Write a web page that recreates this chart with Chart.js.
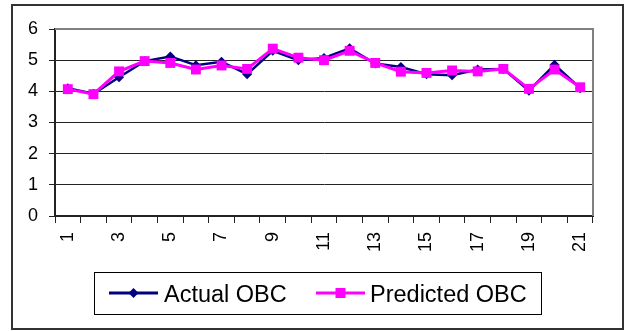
<!DOCTYPE html>
<html>
<head>
<meta charset="utf-8">
<script src="https://cdn.jsdelivr.net/npm/chart.js@4/dist/chart.umd.min.js"></script>
<style>
  html, body { margin: 0; padding: 0; background: #ffffff; }
  #wrap { position: relative; width: 631px; height: 331px; }
</style>
</head>
<body>
<div id="wrap"><canvas id="c" width="631" height="331"></canvas></div>
<script>
const categories = ["1","2","3","4","5","6","7","8","9","10","11","12","13","14","15","16","17","18","19","20","21"];
const actualOBC = [4.10, 3.92, 4.45, 4.97, 5.12, 4.84, 4.95, 4.55, 5.30, 5.00, 5.07, 5.38, 4.89, 4.78, 4.55, 4.52, 4.70, 4.72, 4.02, 4.85, 4.10];
const predictedOBC = [4.07, 3.91, 4.64, 4.97, 4.91, 4.70, 4.83, 4.72, 5.37, 5.08, 5.00, 5.30, 4.91, 4.63, 4.59, 4.67, 4.64, 4.72, 4.08, 4.70, 4.13];
const seriesNames = ["Actual OBC", "Predicted OBC"];
const yTicks = [0, 1, 2, 3, 4, 5, 6];

const FONT = "'Liberation Sans', Arial, sans-serif";

const framePlugin = {
  id: 'frame',
  afterDraw(chart) {
    const ctx = chart.ctx;
    const a = chart.chartArea;
    ctx.save();
    // plot area top/right border (gray)
    ctx.strokeStyle = '#808080';
    ctx.lineWidth = 2;
    ctx.beginPath();
    ctx.moveTo(a.left, a.top);
    ctx.lineTo(a.right, a.top);
    ctx.lineTo(a.right, a.bottom);
    ctx.stroke();
    // outer border
    ctx.strokeStyle = '#333333';
    ctx.lineWidth = 2;
    ctx.strokeRect(12, 5, 611, 324);
    // legend box
    ctx.strokeStyle = '#000000';
    ctx.lineWidth = 1;
    ctx.strokeRect(94.5, 272.5, 447, 42);
    const ly = 293;
    const items = [
      { x0: 109, x1: 158, tx: 164, ds: chart.data.datasets[0] },
      { x0: 316, x1: 365, tx: 370, ds: chart.data.datasets[1] }
    ];
    items.forEach(it => {
      const ds = it.ds;
      ctx.strokeStyle = ds.borderColor;
      ctx.lineWidth = 3;
      ctx.beginPath();
      ctx.moveTo(it.x0, ly);
      ctx.lineTo(it.x1, ly);
      ctx.stroke();
      const cx = (it.x0 + it.x1) / 2;
      ctx.fillStyle = ds.pointBackgroundColor;
      if (ds.pointStyle === 'rectRot') {
        const r = 5;
        ctx.beginPath();
        ctx.moveTo(cx - r, ly);
        ctx.lineTo(cx, ly - r);
        ctx.lineTo(cx + r, ly);
        ctx.lineTo(cx, ly + r);
        ctx.closePath();
        ctx.fill();
      } else {
        ctx.fillRect(cx - 5, ly - 5, 10, 10);
      }
      ctx.fillStyle = '#000000';
      ctx.font = '23.5px ' + FONT;
      ctx.textBaseline = 'alphabetic';
      ctx.textAlign = 'left';
      ctx.fillText(ds.label, it.tx, 302);
    });
    ctx.restore();
  }
};

new Chart(document.getElementById('c'), {
  type: 'line',
  data: {
    labels: categories,
    datasets: [
      {
        label: seriesNames[0],
        data: actualOBC,
        borderColor: '#000080',
        backgroundColor: '#000080',
        pointBackgroundColor: '#000080',
        pointBorderColor: '#000080',
        pointStyle: 'rectRot',
        pointRadius: 5,
        pointBorderWidth: 0,
        borderWidth: 2.5,
        tension: 0,
        order: 1
      },
      {
        label: seriesNames[1],
        data: predictedOBC,
        borderColor: '#FF00FF',
        backgroundColor: '#FF00FF',
        pointBackgroundColor: '#FF00FF',
        pointBorderColor: '#FF00FF',
        pointStyle: 'rect',
        pointRadius: 7,
        pointBorderWidth: 0,
        borderWidth: 3,
        tension: 0,
        order: 0
      }
    ]
  },
  options: {
    responsive: false,
    animation: false,
    events: [],
    layout: { padding: { left: 0, top: 29, right: 38, bottom: 0 } },
    plugins: {
      legend: { display: false },
      tooltip: { enabled: false },
      title: { display: false }
    },
    scales: {
      x: {
        type: 'category',
        offset: true,
        afterFit(scale) { scale.height = 115; },
        grid: {
          offset: true,
          drawOnChartArea: false,
          drawTicks: true,
          tickLength: 7,
          tickColor: '#222222',
          tickWidth: 1
        },
        border: { display: true, color: '#222222', width: 2 },
        ticks: {
          autoSkip: false,
          maxRotation: 90,
          minRotation: 90,
          padding: 9,
          color: '#000000',
          font: { family: FONT, size: 18 },
          callback(value, index) { return index % 2 === 0 ? categories[index] : ''; }
        }
      },
      y: {
        min: 0,
        max: 6,
        afterFit(scale) { scale.width = 55; },
        afterBuildTicks(scale) { scale.ticks = yTicks.map(v => ({ value: v })); },
        grid: {
          color(ctx) { return ctx.tick && ctx.tick.value === 6 ? '#808080' : '#222222'; },
          tickColor: '#222222',
          lineWidth: 1,
          drawTicks: true,
          tickLength: 6
        },
        border: { display: true, color: '#222222', width: 2 },
        ticks: {
          stepSize: 1,
          padding: 11,
          color: '#000000',
          font: { family: FONT, size: 18 }
        }
      }
    }
  },
  plugins: [framePlugin]
});
</script>
</body>
</html>
